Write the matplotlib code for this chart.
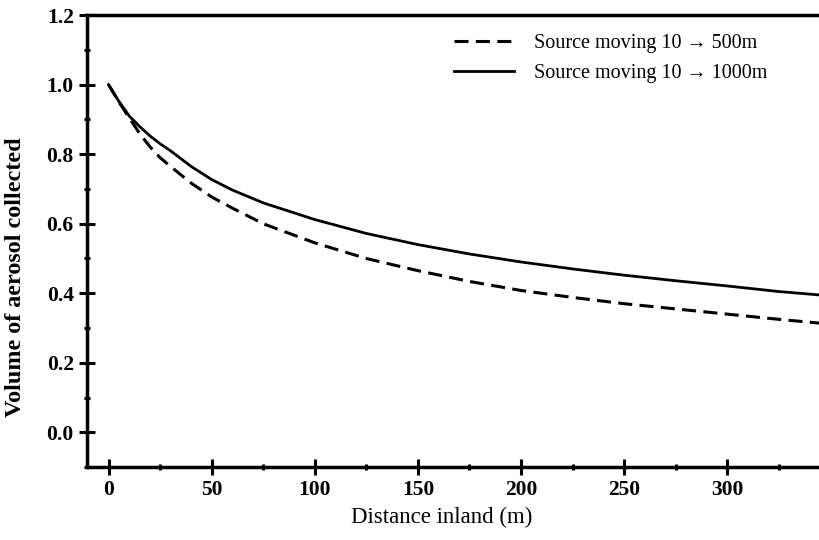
import matplotlib
matplotlib.use("Agg")
import matplotlib.pyplot as plt
from matplotlib.ticker import MultipleLocator, FormatStrFormatter

# Relative aerosol volume collected vs. distance inland
distance = [0, 5, 10, 15, 20, 25, 30, 40, 50, 60, 75, 100, 125, 150, 175, 200, 225, 250, 275,
            300, 325, 345]
source_500 = [1.0, 0.95, 0.905, 0.86, 0.822, 0.79, 0.765, 0.717, 0.677, 0.645, 0.60, 0.545, 0.50,
              0.465, 0.434, 0.408, 0.388, 0.370, 0.355, 0.340, 0.325, 0.314]
source_1000 = [1.0, 0.952, 0.91, 0.88, 0.853, 0.83, 0.81, 0.765, 0.727, 0.697, 0.66, 0.612, 0.572,
               0.54, 0.513, 0.49, 0.47, 0.452, 0.436, 0.421, 0.405, 0.395]

legend_labels = ["Source moving 10 \u2192 500m", "Source moving 10 \u2192 1000m"]

plt.rcParams["font.family"] = ["Liberation Serif", "DejaVu Serif"]

fig = plt.figure(figsize=(8.2, 5.4), dpi=100)
ax = fig.add_axes([0.106, 0.135, 0.894, 0.837])

ax.plot(distance, source_500, color="black", lw=2.2, linestyle=(0, (4.6, 2.4)),
        label=legend_labels[0])
ax.plot(distance, source_1000, color="black", lw=2.0, label=legend_labels[1])

ax.set_xlim(-10.5, 345)
ax.set_ylim(-0.1, 1.2)

ax.xaxis.set_major_locator(MultipleLocator(50))
ax.xaxis.set_minor_locator(MultipleLocator(25))
ax.yaxis.set_major_locator(MultipleLocator(0.2))
ax.yaxis.set_minor_locator(MultipleLocator(0.1))
ax.yaxis.set_major_formatter(FormatStrFormatter("%.1f"))

ax.spines["right"].set_visible(False)
for s in ("left", "top", "bottom"):
    ax.spines[s].set_linewidth(2.5)

ax.tick_params(which="major", direction="inout", length=11, width=2.2, labelsize=15.5, pad=4)
ax.tick_params(which="minor", direction="inout", length=5, width=2.2)
ax.tick_params(top=False, right=False, which="both")
for lbl in ax.get_xticklabels() + ax.get_yticklabels():
    lbl.set_fontweight("bold")

ax.set_xlabel("Distance inland (m)", fontsize=16.5)
ax.set_ylabel("Volume of aerosol collected", fontsize=17.4, fontweight="bold")
ax.xaxis.set_label_coords(0.484, -0.089)
ax.yaxis.set_label_coords(-0.083, 0.42)

leg = ax.legend(loc="upper right", frameon=False, fontsize=14.5, handlelength=3.0,
                handletextpad=1.0, labelspacing=0.55, borderaxespad=0.2,
                bbox_to_anchor=(0.945, 0.985))

fig.savefig("out.png", dpi=100)
